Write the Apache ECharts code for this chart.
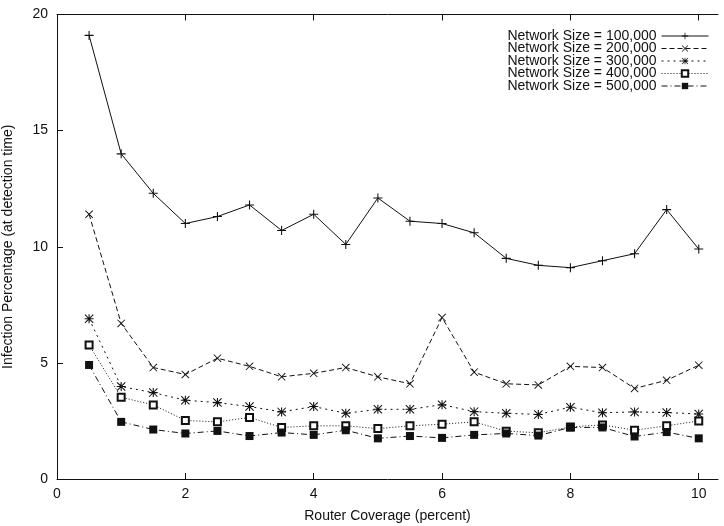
<!DOCTYPE html>
<html>
<head>
<meta charset="utf-8">
<script src="https://cdn.jsdelivr.net/npm/echarts@6/dist/echarts.min.js"></script>
<style>html,body{margin:0;padding:0;background:#fff}#c{width:724px;height:526px}</style>
</head>
<body>
<div id="c"></div>
<script>
const coverage = [0.5,1,1.5,2,2.5,3,3.5,4,4.5,5,5.5,6,6.5,7,7.5,8,8.5,9,9.5,10];
const size100k = [19.1,14.0,12.3,11.0,11.3,11.8,10.7,11.4,10.1,12.1,11.1,11.0,10.6,9.5,9.2,9.1,9.4,9.7,11.6,9.9];
const size200k = [11.4,6.7,4.8,4.5,5.2,4.85,4.4,4.55,4.8,4.4,4.1,6.95,4.6,4.1,4.05,4.85,4.8,3.9,4.25,4.9];
const size300k = [6.9,3.98,3.72,3.39,3.29,3.12,2.89,3.12,2.83,3.0,3.0,3.2,2.9,2.83,2.78,3.09,2.85,2.89,2.86,2.8];
const size400k = [5.77,3.52,3.19,2.52,2.46,2.65,2.22,2.29,2.29,2.17,2.29,2.36,2.46,2.06,1.99,2.24,2.33,2.1,2.29,2.5];
const size500k = [4.91,2.46,2.13,1.96,2.07,1.85,2.0,1.9,2.1,1.75,1.85,1.77,1.9,1.96,1.87,2.22,2.22,1.83,2.02,1.75];
const seriesNames = ['Network Size = 100,000','Network Size = 200,000','Network Size = 300,000','Network Size = 400,000','Network Size = 500,000'];
const xTicks = [0,2,4,6,8,10];
const yTicks = [0,5,10,15,20];

const plusPath = 'path://M4.4,0h1.2v10h-1.2z M0,4.4h10v1.2h-10z';
const crossPath = 'path://M0.8,0L10,9.2L9.2,10L0,0.8z M9.2,0L10,0.8L0.8,10L0,9.2z';
const starPath = 'path://M4.4,0h1.2v10h-1.2z M0,4.4h10v1.2h-10z M0.8,0L10,9.2L9.2,10L0,0.8z M9.2,0L10,0.8L0.8,10L0,9.2z';

const FONT = 'Liberation Sans, Arial, Helvetica, sans-serif';
const ink = '#111';
const FS = 14;

function mk(name, vals, symbol, size, dash) {
  return {
    name: name,
    type: 'line',
    data: coverage.map((x, i) => [x, vals[i]]),
    symbol: symbol,
    symbolSize: size,
    showSymbol: true,
    lineStyle: { color: ink, width: 1, type: dash },
    itemStyle: { color: ink, borderWidth: 1 },
    emphasis: { disabled: true },
    animation: false,
    z: 3
  };
}

const chart = echarts.init(document.getElementById('c'), null, { renderer: 'canvas' });
chart.setOption({
  animation: false,
  backgroundColor: '#fff',
  textStyle: { fontFamily: FONT, color: ink },
  grid: { left: 57, right: 6, top: 14.5, bottom: 47, containLabel: false, outerBoundsMode: 'none' },
  legend: {
    orient: 'vertical',
    right: 10,
    top: 24,
    align: 'right',
    itemWidth: 47,
    itemHeight: 8,
    itemGap: -1.5,
    selectedMode: false,
    lineStyle: { width: 1 },
    textStyle: { fontFamily: FONT, fontSize: FS, color: ink, lineHeight: 12.3 },
    data: seriesNames
  },
  xAxis: [{
    type: 'value', min: 0, max: 10.3, interval: 2,
    name: 'Router Coverage (percent)', nameLocation: 'middle', nameGap: 30,
    nameTextStyle: { fontFamily: FONT, fontSize: FS, color: ink },
    axisLine: { show: true, onZero: false, lineStyle: { color: ink, width: 1 } },
    axisTick: { show: true, inside: true, length: 6, customValues: xTicks, lineStyle: { color: ink } },
    axisLabel: { fontFamily: FONT, fontSize: FS, color: ink, margin: 8, customValues: xTicks },
    splitLine: { show: false }
  }, {
    type: 'value', position: 'top', min: 0, max: 10.3, interval: 2,
    axisLine: { show: true, onZero: false, lineStyle: { color: ink, width: 1 } },
    axisTick: { show: true, inside: true, length: 6, customValues: xTicks, lineStyle: { color: ink } },
    axisLabel: { show: false },
    splitLine: { show: false }
  }],
  yAxis: [{
    type: 'value', min: 0, max: 20, interval: 5,
    name: 'Infection Percentage (at detection time)', nameLocation: 'middle', nameGap: 42, nameRotate: 90,
    nameTextStyle: { fontFamily: FONT, fontSize: FS, color: ink },
    axisLine: { show: true, onZero: false, lineStyle: { color: ink, width: 1 } },
    axisTick: { show: true, inside: true, length: 6, customValues: yTicks, lineStyle: { color: ink } },
    axisLabel: { fontFamily: FONT, fontSize: FS, color: ink, margin: 9, customValues: yTicks },
    splitLine: { show: false }
  }],
  series: [
    mk(seriesNames[0], size100k, plusPath, 9, 'solid'),
    mk(seriesNames[1], size200k, crossPath, 8, [5, 3]),
    mk(seriesNames[2], size300k, starPath, 9, [2, 4]),
    mk(seriesNames[3], size400k, 'emptyRect', 7, [1, 2]),
    mk(seriesNames[4], size500k, 'rect', 8, [6, 3, 1, 3])
  ]
});
</script>
</body>
</html>
